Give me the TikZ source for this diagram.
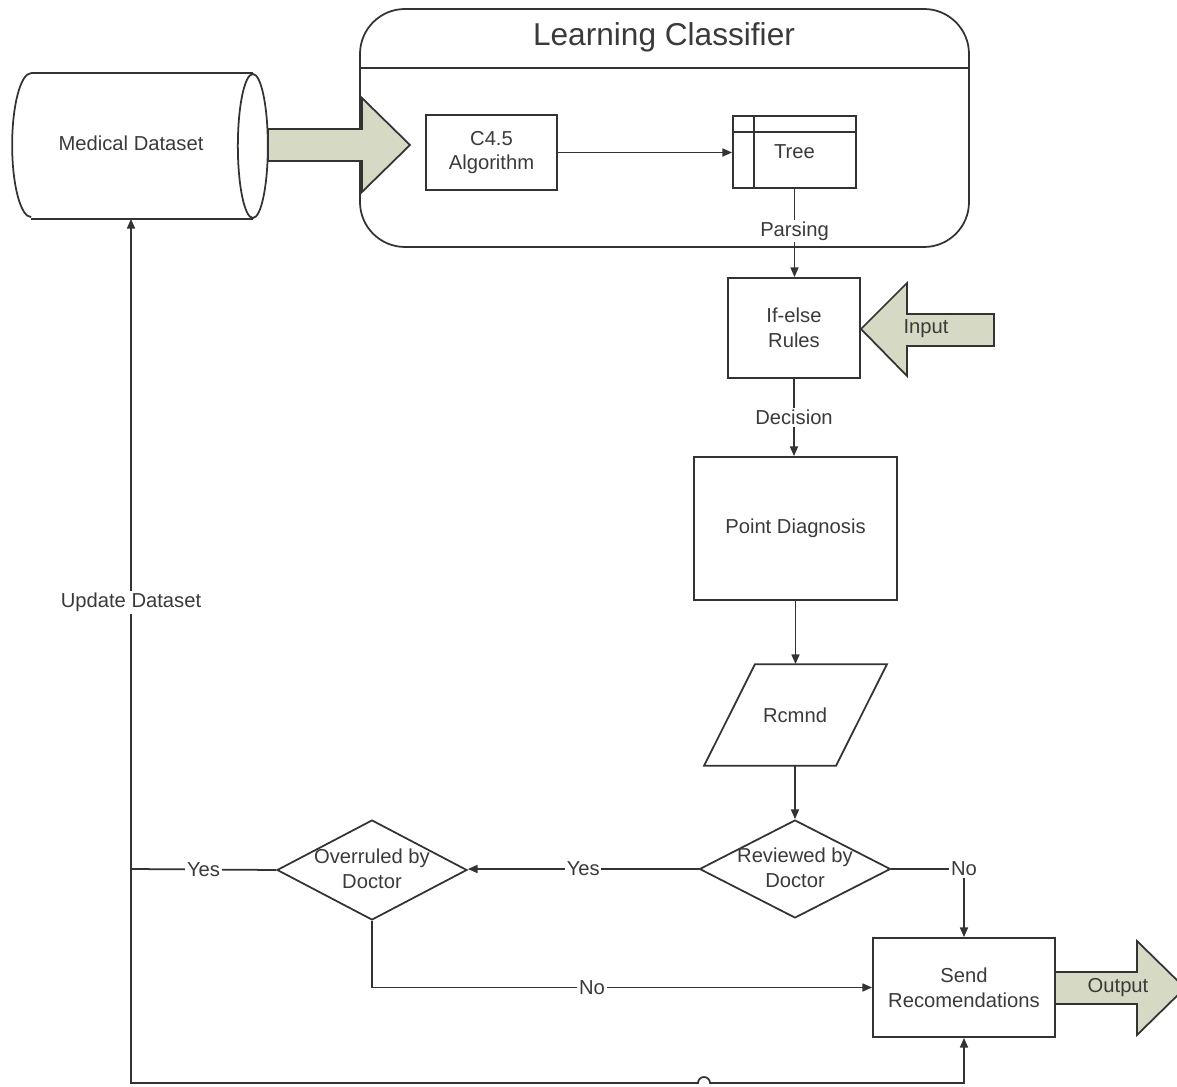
\documentclass[tikz,border=0pt]{standalone}
\usepackage{fontspec}
\setmainfont{Liberation Sans}
\usetikzlibrary{arrows.meta,shapes.geometric}
\definecolor{ln}{HTML}{333333}
\definecolor{tx}{HTML}{3A3A3A}
\definecolor{fl}{RGB}{214,218,196}
\begin{document}
\begin{tikzpicture}[x=0.02cm,y=-0.02cm, line width=1pt, color=ln,
  every node/.append style={text=tx},
  font=\fontsize{11.5}{14}\selectfont,
  box/.style={draw, rectangle, inner sep=0pt, align=center},
  dia/.style={draw, diamond, inner sep=0pt},
  arr/.style={-{Triangle[length=5.5pt,width=4.5pt]}},
  lbl/.style={fill=white, inner sep=1pt},
  fat/.style={draw, fill=fl, line join=miter}]
\useasboundingbox (0,0) rectangle (1177,1087);

% container
\draw[rounded corners=0.9cm] (360,9) rectangle (969,247);
\draw (360,68) -- (969,68);
\node[font=\fontsize{18}{22}\selectfont] (title) at (664,37) {Learning Classifier};

% dataset cylinder
\node[minimum width=4.4cm, minimum height=2.88cm, inner sep=0pt] (md) at (142,146) {};
\node (mdt) at (131,143) {Medical Dataset};
\draw (md.north west) -- (md.north east) (md.south west) -- (md.south east);
\draw (md.east) ellipse [x radius=0.3cm, y radius=1.44cm];
\draw (md.north west) arc[start angle=90, end angle=270, x radius=0.38cm, y radius=1.44cm];

% fat arrow dataset -> classifier
\draw[fat] (268,129) -- (362,129) -- (362,98) -- (410,145) -- (362,192) -- (362,161) -- (268,161) -- cycle;

% C4.5 and tree
\node[box, minimum width=2.62cm, minimum height=1.5cm] (c45) at (491.5,152.5) {C4.5\\Algorithm};
\node[box, minimum width=2.46cm, minimum height=1.44cm] (tree) at (794.5,152) {Tree};
\draw ([yshift=-0.34cm]tree.north west) -- ([yshift=-0.34cm]tree.north east);
\draw ([xshift=0.44cm]tree.north west) -- ([xshift=0.44cm]tree.south west);
\draw[arr] (c45.east) -- (c45.east -| tree.west);

% if-else
\node[box, minimum width=2.64cm, minimum height=2cm] (ife) at (794,328) {If-else\\Rules};
\draw[arr] (tree.south) -- node[lbl, pos=0.48]{Parsing} (tree.south |- ife.north);

% input arrow
\draw[fat] (994,314) -- (907,314) -- (907,283) -- (861,329) -- (907,376) -- (907,346) -- (994,346) -- cycle;
\node (inp) at (926,329) {Input};

% point diagnosis
\node[box, minimum width=4.06cm, minimum height=2.86cm] (pd) at (795.5,528.5) {Point Diagnosis};
\draw[arr] (ife.south) -- node[lbl]{Decision} (ife.south |- pd.north);

% Rcmnd parallelogram
\node[minimum width=2.64cm, minimum height=2cm, inner sep=0pt] (rc) at (795,715) {Rcmnd};
\draw ([xshift=-0.8cm]rc.north) -- ([xshift=1.84cm]rc.north) -- ([xshift=0.82cm]rc.south) -- ([xshift=-1.82cm]rc.south) -- cycle;
\draw[arr] (pd.south) -- (pd.south |- rc.north);

% reviewed diamond
\node[dia, minimum width=3.82cm, minimum height=1.96cm] (rev) at (795,869) {};
\node[align=center] (revt) at (795,868) {Reviewed by\\Doctor};
\draw[arr] (rc.south) -- (rev.north);

% overruled diamond
\node[dia, minimum width=3.8cm, minimum height=2cm] (ovr) at (372,870) {};
\node[align=center] (ovrt) at (372,869) {Overruled by\\Doctor};
\draw[arr] (rev.west) -- node[lbl]{Yes} (rev.west -| ovr.east);

% send
\node[box, minimum width=3.64cm, minimum height=1.98cm] (snd) at (964,987.5) {Send\\Recomendations};
\draw[arr] (rev.east) -- (rev.east -| snd.north) node[lbl]{No} -- (snd.north);
\draw[arr] (ovr.south) |- node[lbl, pos=0.72]{No} (snd.west);

% output arrow
\draw[fat] (1055,972) -- (1137,972) -- (1137,941) -- (1185,988) -- (1137,1035) -- (1137,1004) -- (1055,1004) -- cycle;
\node (outp) at (1118,988) {Output};

% loop back
\coordinate (jn) at (131,869);
\coordinate (bl) at (131,1083);
\draw (ovr.west) -- node[lbl]{Yes} (jn);
\draw[arr] (jn) -- node[lbl, pos=0.41]{Update Dataset} (jn |- md.south);
\draw[arr] (jn) -- (bl) -- (698,1083) arc[start angle=180, end angle=0, radius=0.12cm] -- (bl -| snd.south) -- (snd.south);
\end{tikzpicture}
\end{document}
